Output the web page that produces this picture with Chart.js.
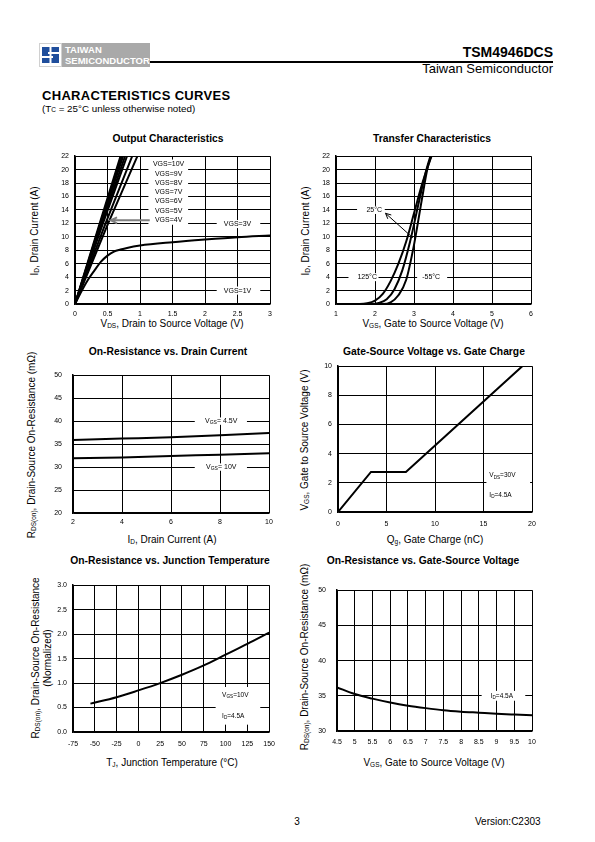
<!DOCTYPE html>
<html>
<head>
<meta charset="utf-8">
<script src="https://cdn.jsdelivr.net/npm/chart.js@4.4.1/dist/chart.umd.min.js"></script>
<style>
body{margin:0;background:#fff;font-family:"Liberation Sans",Arial,sans-serif;color:#000}
#page{position:relative;width:595px;height:842px;overflow:hidden}
.abs{position:absolute;white-space:nowrap;line-height:1}
.c{transform:translate(-50%,-50%)}
.ttl{font-weight:bold;font-size:10.3px}
.axt{font-size:10px}
.rot{transform:translate(-50%,-50%) rotate(-90deg);text-align:center}
sub{font-size:6.5px;vertical-align:-1px;line-height:0}
canvas{position:absolute}
</style>
</head>
<body>
<div id="page">
  <!-- header -->
  <div class="abs" style="left:39px;top:43px;width:23px;height:24px;background:#fff;border:1px solid #d0d0d0;box-sizing:border-box">
    <svg width="21" height="22" viewBox="0 0 21 22">
      <path d="M2 3h17v5H8v2h11v9H2v-5h11v-2H2z" fill="#1f4e9c"/>
      <rect x="9.5" y="1" width="2" height="20" fill="#fff"/>
    </svg>
  </div>
  <div class="abs" style="left:62px;top:43px;width:88px;height:24px;background:#a9a9a9;color:#fff;font:bold 9.5px 'Liberation Sans';padding:1px 0 0 3px;box-sizing:border-box;line-height:11px">TAIWAN<br>SEMICONDUCTOR</div>
  <div class="abs" style="left:150px;top:61px;width:403px;height:1.5px;background:#000"></div>
  <div class="abs" style="right:42px;top:44px;font:bold 14px 'Liberation Sans'">TSM4946DCS</div>
  <div class="abs" style="right:42px;top:61px;font:13px 'Liberation Sans'">Taiwan Semiconductor</div>
  <div class="abs" style="left:42px;top:88px;font:900 13px 'Liberation Sans';letter-spacing:0.3px">CHARACTERISTICS CURVES</div>
  <div class="abs" style="left:42px;top:103px;font:9.8px 'Liberation Sans'">(T<span style="font-size:6.5px">C</span> = 25°C unless otherwise noted)</div>

  <!-- chart titles -->
  <div class="abs c ttl" style="left:168px;top:139px">Output Characteristics</div>
  <div class="abs c ttl" style="left:432px;top:139px">Transfer Characteristics</div>
  <div class="abs c ttl" style="left:168px;top:352px">On-Resistance vs. Drain Current</div>
  <div class="abs c ttl" style="left:434px;top:352px">Gate-Source Voltage vs. Gate Charge</div>
  <div class="abs c ttl" style="left:170px;top:561px">On-Resistance vs. Junction Temperature</div>
  <div class="abs c ttl" style="left:423px;top:561px">On-Resistance vs. Gate-Source Voltage</div>

  <!-- x titles -->
  <div class="abs c axt" style="left:172px;top:324px">V<sub>DS</sub>, Drain to Source Voltage (V)</div>
  <div class="abs c axt" style="left:433px;top:324px">V<sub>GS</sub>, Gate to Source Voltage (V)</div>
  <div class="abs c axt" style="left:172px;top:540px">I<sub>D</sub>, Drain Current (A)</div>
  <div class="abs c axt" style="left:435px;top:540px">Q<sub>g</sub>, Gate Charge (nC)</div>
  <div class="abs c axt" style="left:172px;top:763px">T<sub>J</sub>, Junction Temperature (°C)</div>
  <div class="abs c axt" style="left:434px;top:763px">V<sub>GS</sub>, Gate to Source Voltage (V)</div>

  <!-- y titles -->
  <div class="abs rot axt" style="left:35px;top:231px">I<sub>D</sub>, Drain Current (A)</div>
  <div class="abs rot axt" style="left:306px;top:231px">I<sub>D</sub>, Drain Current (A)</div>
  <div class="abs rot axt" style="left:32px;top:445px">R<sub>DS(on)</sub>, Drain-Source On-Resistance (mΩ)</div>
  <div class="abs rot axt" style="left:305px;top:440px">V<sub>GS</sub>, Gate to Source Voltage (V)</div>
  <div class="abs rot axt" style="left:42px;top:658px;line-height:12px">R<sub>DS(on)</sub>, Drain-Source On-Resistance<br>(Normalized)</div>
  <div class="abs rot axt" style="left:305px;top:657px">R<sub>DS(on)</sub>, Drain-Source On-Resistance (mΩ)</div>

  <!-- footer -->
  <div class="abs c" style="left:297px;top:821px;font:10px 'Liberation Sans'">3</div>
  <div class="abs" style="left:475px;top:816px;font:10px 'Liberation Sans'">Version:C2303</div>

  <canvas id="c1"></canvas>
  <canvas id="c2"></canvas>
  <canvas id="c3"></canvas>
  <canvas id="c4"></canvas>
  <canvas id="c5"></canvas>
  <canvas id="c6"></canvas>
</div>

<script>
// ---- data ----
// Output characteristics (ID vs VDS)
const steepId = [0, 12, 22];
const vdsVgs10 = [0, 0.38, 0.70];
const vdsVgs9 = [0, 0.39, 0.72];
const vdsVgs8 = [0, 0.40, 0.74];
const vdsVgs7 = [0, 0.415, 0.77];
const vdsVgs6 = [0, 0.43, 0.80];
const vdsVgs5 = [0, 0.47, 0.88];
const vdsVgs4 = [0, 0.51, 0.96];
const vdsVgs3 = [0, 0.1, 0.2, 0.3, 0.4, 0.5, 0.6, 0.7, 0.8, 1.0, 1.5, 2.0, 2.5, 3.0];
const idVgs3 = [0, 1.9, 3.6, 5.0, 6.3, 7.2, 7.8, 8.1, 8.35, 8.7, 9.2, 9.6, 9.95, 10.2];
const vdsVgs1 = [0, 3];
const idVgs1 = [0, 0];
const outLabels = ['VGS=10V', 'VGS=9V', 'VGS=8V', 'VGS=7V', 'VGS=6V', 'VGS=5V', 'VGS=4V'];

// Transfer characteristics (ID vs VGS)
const vgs125 = [1, 1.6, 1.8, 2.0, 2.2, 2.4, 2.6, 2.8, 3.0, 3.2, 3.4, 3.45];
const id125 = [0, 0, 0.1, 0.5, 1.5, 3.4, 6.0, 9.3, 13.5, 17.7, 21.2, 22];
const vgs25 = [1, 1.9, 2.1, 2.3, 2.5, 2.7, 2.9, 3.1, 3.3, 3.42];
const id25 = [0, 0, 0.15, 0.7, 2.2, 5.0, 9.3, 14.5, 19.6, 22];
const vgsM55 = [1, 2.2, 2.4, 2.6, 2.8, 3.0, 3.2, 3.35, 3.45];
const idM55 = [0, 0, 0.25, 1.3, 3.6, 8.8, 15.5, 20.3, 22.2];

// On-resistance vs drain current
const idDrain = [2, 4, 6, 8, 10];
const rdsVgs45 = [35.9, 36.2, 36.5, 36.9, 37.4];
const rdsVgs10 = [31.9, 32.1, 32.4, 32.7, 33.0];

// Gate charge
const qg = [0, 3.4, 7.0, 19.0];
const vgsCharge = [0, 2.75, 2.75, 10];

// On-resistance vs junction temperature
const tj = [-55, -25, 0, 25, 50, 75, 100, 125, 150];
const rdsNorm = [0.58, 0.71, 0.85, 1.0, 1.17, 1.36, 1.58, 1.8, 2.03];

// On-resistance vs gate-source voltage
const vgsSweep = [4.5, 5, 5.5, 6, 6.5, 7, 7.5, 8, 8.5, 9, 9.5, 10];
const rdsSweep = [36.2, 35.25, 34.6, 34.05, 33.6, 33.25, 32.95, 32.75, 32.6, 32.45, 32.33, 32.22];

// ---- drawing ----
const FONT = '"Liberation Sans", Arial, sans-serif';
Chart.defaults.font.family = FONT;
Chart.defaults.color = '#000';
const PAD_L = 34, PAD_R = 12, PAD_T = 8, PAD_B = 20;

const pts = (xs, ys) => xs.map((x, i) => ({ x, y: ys[i] }));
const line = (xs, ys, smooth) => ({
  data: pts(xs, ys), borderColor: '#000', borderWidth: 2, pointRadius: 0,
  fill: false, tension: 0, cubicInterpolationMode: smooth ? 'monotone' : 'default'
});

function axis(min, max, step, isX, gap, fmt) {
  return {
    type: 'linear', min, max,
    ticks: { stepSize: step, autoSkip: false, maxRotation: 0, padding: gap,
             font: { size: 7 }, color: '#000', callback: fmt || (v => v) },
    grid: { color: '#000', lineWidth: 1, drawTicks: false },
    border: { color: '#000', width: 1.5 },
    afterFit: s => { if (isX) s.height = PAD_B; else s.width = PAD_L; }
  };
}

// text with _{sub} parts
function rich(ctx, str, x, y, size, align) {
  const parts = str.split(/_\{([^}]*)\}/);
  const segs = [];
  let w = 0;
  parts.forEach((p, i) => {
    if (!p) return;
    const sub = i % 2 === 1;
    const fs = sub ? size * 0.72 : size;
    ctx.font = fs + 'px ' + FONT;
    const pw = ctx.measureText(p).width;
    segs.push({ p, sub, fs, pw });
    w += pw;
  });
  let cx = align === 'center' ? x - w / 2 : x;
  ctx.textAlign = 'left';
  ctx.textBaseline = 'middle';
  ctx.fillStyle = '#000';
  segs.forEach(s => {
    ctx.font = s.fs + 'px ' + FONT;
    ctx.fillText(s.p, cx, s.sub ? y + size * 0.28 : y);
    cx += s.pw;
  });
}

function whiteBox(chart, x0, x1, y0, y1) {
  const { x, y } = chart.scales;
  const ctx = chart.ctx;
  ctx.fillStyle = '#fff';
  const px0 = x.getPixelForValue(x0), px1 = x.getPixelForValue(x1);
  const py0 = y.getPixelForValue(y1), py1 = y.getPixelForValue(y0);
  ctx.fillRect(px0, py0, px1 - px0, py1 - py0);
}

function label(chart, str, xv, yv, size, align) {
  const { x, y } = chart.scales;
  rich(chart.ctx, str, x.getPixelForValue(xv), y.getPixelForValue(yv), size, align || 'center');
}

function arrow(chart, x0v, y0v, x1v, y1v, color, width, head) {
  const { x, y } = chart.scales;
  const ctx = chart.ctx;
  const ax = x.getPixelForValue(x0v), ay = y.getPixelForValue(y0v);
  const bx = x.getPixelForValue(x1v), by = y.getPixelForValue(y1v);
  const ang = Math.atan2(by - ay, bx - ax);
  ctx.save();
  ctx.strokeStyle = color;
  ctx.lineWidth = width;
  ctx.beginPath();
  ctx.moveTo(ax, ay);
  ctx.lineTo(bx, by);
  ctx.moveTo(bx - head * Math.cos(ang - 0.45), by - head * Math.sin(ang - 0.45));
  ctx.lineTo(bx, by);
  ctx.lineTo(bx - head * Math.cos(ang + 0.45), by - head * Math.sin(ang + 0.45));
  ctx.stroke();
  ctx.restore();
}

function makeChart(id, box, xs, ys, datasets, notes) {
  const cv = document.getElementById(id);
  const w = box.r - box.l + PAD_L + PAD_R;
  const h = box.b - box.t + PAD_T + PAD_B;
  cv.width = w; cv.height = h;
  cv.style.left = (box.l - PAD_L) + 'px';
  cv.style.top = (box.t - PAD_T) + 'px';
  cv.style.width = w + 'px'; cv.style.height = h + 'px';
  return new Chart(cv, {
    type: 'line',
    data: { datasets },
    options: {
      responsive: false, animation: false, devicePixelRatio: 1,
      layout: { padding: { top: PAD_T, right: PAD_R, left: 0, bottom: 0 } },
      plugins: { legend: { display: false }, tooltip: { enabled: false } },
      scales: { x: xs, y: ys }
    },
    plugins: [{ id: 'notes', beforeDatasetsDraw: c => notes.under && notes.under(c),
                afterDatasetsDraw: c => notes.over && notes.over(c) }]
  });
}

// 1. Output characteristics
makeChart('c1', { l: 75, t: 154, r: 270, b: 304 },
  axis(0, 3, 0.5, true, 6), axis(0, 22, 2, false, 6),
  [
    line(vdsVgs10, steepId), line(vdsVgs9, steepId), line(vdsVgs8, steepId),
    line(vdsVgs7, steepId), line(vdsVgs6, steepId), line(vdsVgs5, steepId),
    line(vdsVgs4, steepId), line(vdsVgs3, idVgs3, true), line(vdsVgs1, idVgs1)
  ],
  {
    under: c => {
      whiteBox(c, 1.13, 1.74, 11.8, 21.5);
      whiteBox(c, 2.18, 2.85, 11.3, 12.5);
      whiteBox(c, 2.18, 2.85, 1.4, 2.6);
      const ys = [20.8, 19.4, 18.0, 16.65, 15.25, 13.85, 12.45];
      outLabels.forEach((t, i) => label(c, t, 1.44, ys[i], 7));
      label(c, 'VGS=3V', 2.5, 11.9, 7);
      label(c, 'VGS=1V', 2.5, 2.0, 7);
    },
    over: c => arrow(c, 1.15, 12.45, 0.55, 12.45, '#808080', 2, 7)
  });

// 2. Transfer characteristics
makeChart('c2', { l: 336, t: 154, r: 531, b: 304 },
  axis(1, 6, 1, true, 6), axis(0, 22, 2, false, 6),
  [line(vgs125, id125, true), line(vgs25, id25, true), line(vgsM55, idM55, true)],
  {
    under: c => {
      whiteBox(c, 1.54, 2.25, 13.4, 14.6);
      whiteBox(c, 1.32, 2.09, 3.4, 4.6);
      whiteBox(c, 3.08, 3.85, 3.4, 4.6);
      label(c, '25°C', 1.98, 14, 7);
      label(c, '125°C', 1.8, 4, 7);
      label(c, '-55°C', 3.44, 4, 7);
    },
    over: c => arrow(c, 2.97, 9.85, 2.27, 13.5, '#000', 1, 6)
  });

// 3. On-resistance vs drain current
makeChart('c3', { l: 73, t: 368, r: 269, b: 513 },
  axis(2, 10, 2, true, 5), axis(20, 50, 5, false, 11),
  [line(idDrain, rdsVgs45, true), line(idDrain, rdsVgs10, true)],
  {
    under: c => {
      whiteBox(c, 6.97, 9.1, 39.2, 40.8);
      whiteBox(c, 6.97, 9.1, 29.2, 30.8);
      label(c, 'V_{GS}= 4.5V', 8.05, 40, 7);
      label(c, 'V_{GS}= 10V', 8.05, 30, 7);
    }
  });

// 4. Gate charge
makeChart('c4', { l: 338, t: 364, r: 532, b: 512 },
  axis(0, 20, 5, true, 8), axis(0, 10, 2, false, 6),
  [line(qg, vgsCharge)],
  {
    under: c => {
      whiteBox(c, 15.3, 19.8, 0.6, 3.4);
      label(c, 'V_{DS}=30V', 15.6, 2.5, 6.5, 'left');
      label(c, 'I_{D}=4.5A', 15.6, 1.17, 6.5, 'left');
    }
  });

// 5. On-resistance vs junction temperature
makeChart('c5', { l: 73, t: 583, r: 271, b: 732 },
  axis(-75, 150, 25, true, 8), axis(0, 3, 0.5, false, 6, v => v.toFixed(1)),
  [line(tj, rdsNorm, true)],
  {
    under: c => {
      whiteBox(c, 88.6, 139.8, 0.15, 0.92);
      label(c, 'V_{GS}=10V', 96, 0.75, 6.5, 'left');
      label(c, 'I_{D}=4.5A', 96, 0.32, 6.5, 'left');
    }
  });

// 6. On-resistance vs gate-source voltage
makeChart('c6', { l: 337, t: 583, r: 532, b: 731 },
  axis(4.5, 10, 0.5, true, 7), axis(30, 50, 5, false, 11),
  [line(vgsSweep, rdsSweep, true)],
  {
    under: c => {
      whiteBox(c, 8.58, 9.81, 34.3, 35.7);
      label(c, 'I_{D}=4.5A', 9.15, 35, 6.5);
    }
  });
</script>
</body>
</html>
